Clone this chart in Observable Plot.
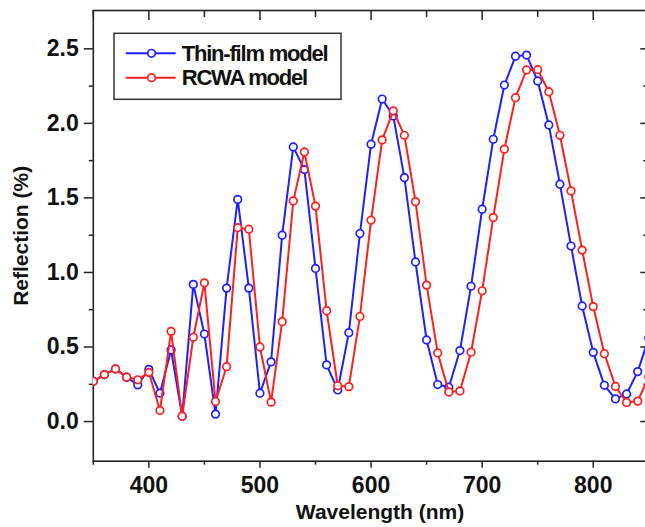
<!DOCTYPE html>
<html>
<head>
<meta charset="utf-8">
<script src="https://cdn.jsdelivr.net/npm/d3@7"></script>
<script src="https://cdn.jsdelivr.net/npm/@observablehq/plot@0.6"></script>
<style>
  html, body { margin: 0; padding: 0; background: #fff; overflow: hidden; }
  #wrap { position: relative; width: 645px; height: 527px; overflow: hidden; }
  #wrap svg.legend { position: absolute; left: 0; top: 0; pointer-events: none; }
</style>
</head>
<body>
<div id="wrap"></div>
<script>
// ---- data ----
const wavelength = [350,360,370,380,390,400,410,420,430,440,450,460,470,480,490,500,510,520,530,540,
  550,560,570,580,590,600,610,620,630,640,650,660,670,680,690,700,710,720,730,740,
  750,760,770,780,790,800,810,820,830,840,850];
const thinFilm = [0.27,0.315,0.353,0.297,0.246,0.35,0.19,0.48,0.035,0.92,
  0.587,0.05,0.895,1.49,0.895,0.19,0.40,1.25,1.842,1.69,
  1.027,0.38,0.212,0.596,1.261,1.86,2.163,2.05,1.636,1.07,
  0.547,0.248,0.23,0.476,0.907,1.424,1.893,2.257,2.45,2.458,
  2.284,1.989,1.592,1.177,0.775,0.464,0.243,0.152,0.185,0.335,0.56];
const rcwa = [0.27,0.315,0.353,0.297,0.28,0.33,0.074,0.605,0.035,0.565,
  0.93,0.134,0.368,1.30,1.29,0.50,0.13,0.67,1.48,1.808,
  1.445,0.743,0.24,0.234,0.705,1.35,1.889,2.084,1.92,1.475,
  0.915,0.46,0.198,0.205,0.465,0.877,1.368,1.827,2.172,2.358,
  2.36,2.212,1.92,1.547,1.15,0.771,0.455,0.235,0.128,0.137,0.30];
const seriesNames = ["Thin-film model", "RCWA model"];
const seriesColors = ["#1f1fff", "#ff1f1f"];
const xMajorTicks = [400, 500, 600, 700, 800];
const xMinorTicks = [350, 450, 550, 650, 750, 850];
const yMajorTicks = [0, 0.5, 1.0, 1.5, 2.0, 2.5];
const yMinorTicks = [0.25, 0.75, 1.25, 1.75, 2.25];
const xLabel = "Wavelength (nm)";
const yLabel = "Reflection (%)";

// ---- build table ----
const seriesValues = [thinFilm, rcwa];
const rows = [];
seriesNames.forEach((name, s) => {
  wavelength.forEach((w, i) => rows.push({wavelength: w, value: seriesValues[s][i], series: name}));
});

const W = 645, H = 527;
const mL = 92.8, mR = -3.3, mT = 10, mB = 66.3;
const frameW = W - mL - mR, frameH = H - mT - mB;
const axisColor = "#222";
const font = "'Liberation Sans', Arial, Helvetica, sans-serif";

const seriesMarks = seriesNames.flatMap(name => {
  const d = rows.filter(r => r.series === name);
  return [
    Plot.line(d, {x: "wavelength", y: "value", stroke: "series", strokeWidth: 2, clip: true}),
    Plot.dot(d, {x: "wavelength", y: "value", stroke: "series", fill: "white", r: 3.8, strokeWidth: 1.7, symbol: "circle", clip: true})
  ];
});

const chart = Plot.plot({
  width: W,
  height: H,
  marginLeft: mL,
  marginRight: mR,
  marginTop: mT,
  marginBottom: mB,
  style: {fontFamily: font, fontSize: "23px", fontWeight: "bold", color: "#111", background: "white", overflow: "hidden"},
  x: {domain: [350, 850]},
  y: {domain: [-0.266, 2.757]},
  color: {domain: seriesNames, range: seriesColors},
  marks: [
    // bottom axis (outward ticks)
    Plot.axisX({anchor: "bottom", ticks: xMajorTicks, tickSize: 7, tickPadding: 8, tickFormat: d => String(d), fontSize: 23, fontWeight: "bold", stroke: axisColor, strokeWidth: 1.5, label: null}),
    Plot.axisX({anchor: "bottom", ticks: xMinorTicks, tickSize: 4, tickFormat: () => "", stroke: axisColor, strokeWidth: 1.5, label: null}),
    // left axis (outward ticks)
    Plot.axisY({anchor: "left", ticks: yMajorTicks, tickSize: 9, tickPadding: 5.5, tickFormat: d3.format(".1f"), fontSize: 23, fontWeight: "bold", stroke: axisColor, strokeWidth: 1.5, label: null}),
    Plot.axisY({anchor: "left", ticks: yMinorTicks, tickSize: 4, tickFormat: () => "", stroke: axisColor, strokeWidth: 1.5, label: null}),
    // top inward ticks
    Plot.tickX(xMajorTicks, {x: d => d, insetBottom: frameH - 10, stroke: axisColor, strokeWidth: 1.5}),
    Plot.tickX(xMinorTicks, {x: d => d, insetBottom: frameH - 7, stroke: axisColor, strokeWidth: 1.5}),
    // right inward ticks
    Plot.tickY(yMajorTicks, {y: d => d, insetLeft: frameW - 8, stroke: axisColor, strokeWidth: 1.5}),
    Plot.tickY(yMinorTicks, {y: d => d, insetLeft: frameW - 5, stroke: axisColor, strokeWidth: 1.5}),
    Plot.frame({stroke: axisColor, strokeWidth: 1.6}),
    ...seriesMarks,
    // axis titles
    Plot.text([xLabel], {text: d => d, frameAnchor: "bottom", dy: 51, dx: 9, textAnchor: "middle", lineAnchor: "middle", fontSize: 21, fontWeight: "bold", fill: "#111"}),
    Plot.text([yLabel], {text: d => d, frameAnchor: "left", dx: -72, rotate: -90, textAnchor: "middle", lineAnchor: "middle", fontSize: 21, fontWeight: "bold", fill: "#111"})
  ]
});

const wrap = document.getElementById("wrap");
wrap.appendChild(chart);

// ---- legend (inside the plot area, top-left) ----
const lg = d3.select(wrap).append("svg")
  .attr("class", "legend")
  .attr("width", W).attr("height", H);
const box = {x: 114, y: 33.3, w: 227, h: 66};
lg.append("rect")
  .attr("x", box.x).attr("y", box.y).attr("width", box.w).attr("height", box.h)
  .attr("fill", "white").attr("stroke", "#333").attr("stroke-width", 1.5);
const rowY = [53.3, 77.7];
seriesNames.forEach((name, i) => {
  const g = lg.append("g");
  g.append("line").attr("x1", 125.7).attr("x2", 175.7).attr("y1", rowY[i]).attr("y2", rowY[i])
    .attr("stroke", seriesColors[i]).attr("stroke-width", 2);
  g.append("circle").attr("cx", 151.5).attr("cy", rowY[i]).attr("r", 3.8)
    .attr("fill", "white").attr("stroke", seriesColors[i]).attr("stroke-width", 1.7);
  g.append("text").attr("x", 181.7).attr("y", rowY[i]).attr("dy", "0.35em")
    .attr("font-family", font).attr("font-weight", "bold").attr("font-size", 22)
    .attr("letter-spacing", "-1.2px").attr("fill", "#111")
    .text(name);
});
</script>
</body>
</html>
